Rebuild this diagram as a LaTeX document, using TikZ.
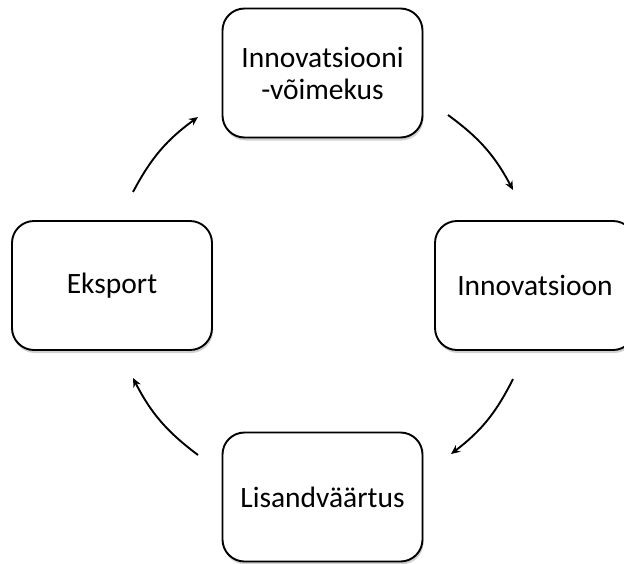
\documentclass[tikz,border=0pt]{standalone}
\usepackage{fontspec}
\setmainfont{Carlito}
\usetikzlibrary{shadows,arrows.meta}
\tikzset{
  box/.style={draw=black, line width=1.9pt, rounded corners=22pt, fill=white,
    minimum width=200pt, minimum height=129pt, align=center,
    font=\fontsize{29.5}{32}\selectfont,
    drop shadow={shadow xshift=1pt, shadow yshift=-3pt, opacity=0.18, fill=black}},
  cyc/.style={line width=1.9pt, -{Stealth[length=9pt,width=8pt]}}
}
\begin{document}
\begin{tikzpicture}[x=1pt,y=-1pt]
\useasboundingbox[fill=white] (0,0) rectangle (624,563);
\clip (0,0) rectangle (624,563);
\node[box] (top) at (322.5,73) {Innovatsiooni\\-võimekus};
\node[box] (right) at (535,285.5) {Innovatsioon};
\node[box] (left) at (112,285.5) {Eksport};
\node[box] (bottom) at (322.5,497) {Lisandväärtus};
\coordinate (a1s) at (448,115);
\coordinate (a1e) at (513,190);
\coordinate (a2s) at (513,379);
\coordinate (a2e) at (451,454);
\coordinate (a3s) at (198,455);
\coordinate (a3e) at (133,378);
\coordinate (a4s) at (133,192);
\coordinate (a4e) at (198,117);
\draw[cyc] (a1s) to[bend left=13] (a1e);
\draw[cyc] (a2s) to[bend left=13] (a2e);
\draw[cyc] (a3s) to[bend left=13] (a3e);
\draw[cyc] (a4s) to[bend left=13] (a4e);
\end{tikzpicture}
\end{document}
